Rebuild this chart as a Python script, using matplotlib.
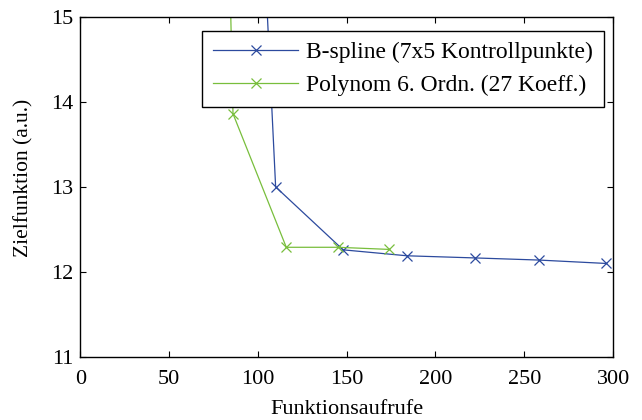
import numpy as np
import matplotlib.pyplot as plt

plt.rcParams['font.family'] = ['Liberation Serif', 'DejaVu Serif']

# B-spline (7x5 Kontrollpunkte)
bspline_x = [101, 110, 148, 184, 222, 258, 296]
bspline_y = [16.9, 13.0, 12.26, 12.19, 12.165, 12.14, 12.10]

# Polynom 6. Ordn. (27 Koeff.)
poly_x = [83, 86, 116, 145, 174]
poly_y = [16.6, 13.86, 12.29, 12.29, 12.265]

labels = ['B-spline (7x5 Kontrollpunkte)', 'Polynom 6. Ordn. (27 Koeff.)']

fig = plt.figure(figsize=(6.42, 4.2), dpi=100)
ax = fig.add_axes([0.125, 0.15, 0.83, 0.81])

ax.plot(bspline_x, bspline_y, marker='x', color='#2c4a9e', lw=0.9, ms=7, mew=0.9, label=labels[0])
ax.plot(poly_x, poly_y, marker='x', color='#78be3c', lw=0.9, ms=7, mew=0.9, label=labels[1])

ax.set_xlim(0, 300)
ax.set_ylim(11, 15)
ax.set_xticks(np.arange(0, 301, 50))
ax.set_yticks([11, 12, 13, 14, 15])
ax.tick_params(direction='in', top=True, right=True, length=4, width=0.8, labelsize=16)
ax.tick_params(axis='x', pad=9.5)
ax.tick_params(axis='y', pad=5)
for s in ax.spines.values():
    s.set_linewidth(1.0)

ax.set_xlabel('Funktionsaufrufe', fontsize=16, labelpad=8)
ax.set_ylabel('Zielfunktion (a.u.)', fontsize=15.5)
ax.yaxis.set_label_coords(-0.088, 0.527)

leg = ax.legend(loc='upper right', bbox_to_anchor=(0.9825, 0.958), borderaxespad=0,
                fontsize=17, handlelength=3.6, fancybox=False, framealpha=1,
                edgecolor='black', borderpad=0.45, labelspacing=0.48, handletextpad=0.35)
leg.get_frame().set_linewidth(1.0)

fig.savefig('out.png', dpi=100)
